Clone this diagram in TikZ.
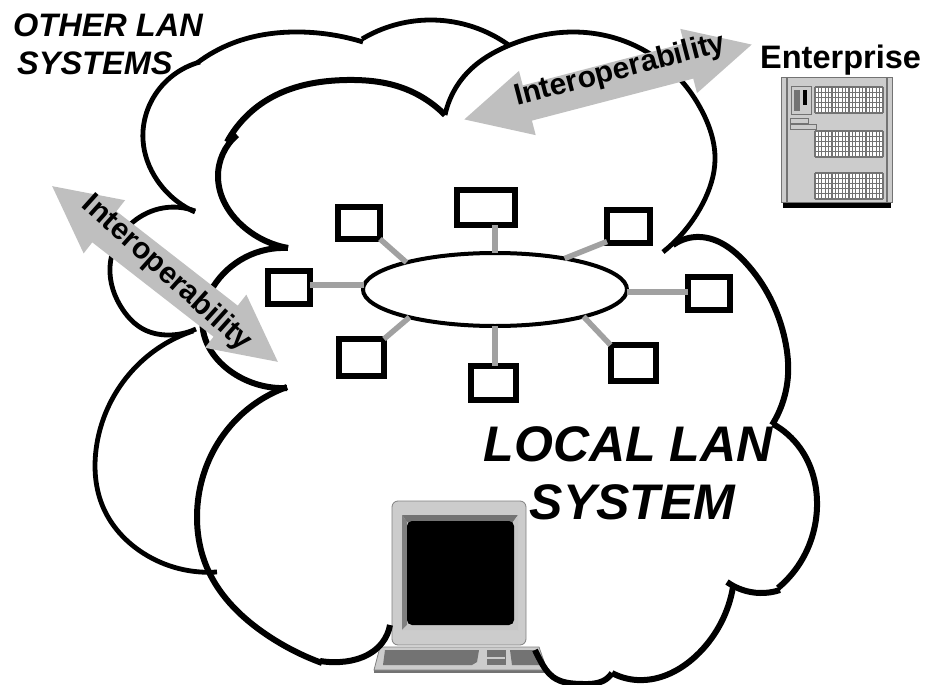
\documentclass[tikz,border=0pt]{standalone}
\usepackage{fontspec}
\setmainfont{Liberation Sans}
\usetikzlibrary{shapes.geometric,shapes.arrows,hobby}
\definecolor{arrowgray}{gray}{0.75}
\definecolor{linkgray}{gray}{0.63}
\definecolor{bodygray}{gray}{0.8}
\definecolor{keygray}{gray}{0.45}
\newcommand{\ventgrid}[1]{
    \fill[white] (815,#1) rectangle (883,#1+26);
    \foreach \ventx in {0,3.4,...,68} {\draw[ventline] (815+\ventx,#1) -- (815+\ventx,#1+26);}
    \foreach \venty in {0,5.2,...,26} {\draw[ventline] (815,#1+\venty) -- (883,#1+\venty);}
}
\begin{document}
\begin{tikzpicture}[auto,x=1pt,y=-1pt,use Hobby shortcut,
    station/.style = {draw, line width=6pt, fill=white, inner sep=0pt, outer sep=0pt},
    backcloud/.style = {line width=4.8pt},
    frontcloud/.style = {line width=6pt},
    ventline/.style = {keygray, line width=1.1pt},
    interop/.style = {double arrow, fill=arrowgray, inner sep=0pt, double arrow tip angle=54, double arrow head indent=0pt, font=\bfseries, align=center},
    bigtitle/.style = {font=\bfseries\itshape\fontsize{50}{58}\selectfont, align=center, inner sep=0pt},
    smalltitle/.style = {font=\bfseries\itshape\fontsize{32.5}{38}\selectfont, align=left, inner sep=0pt}]
                \useasboundingbox (0,0) rectangle (927,685);
                \draw[backcloud] (200,62) .. (160,88) .. (143,140) .. (157,180) .. (195,212);
                \draw[backcloud] (195,211) .. (163,208) .. (133,222) .. (110,267) .. (123,310) .. (143,329) .. (167,335) .. (196,329);
                \draw[backcloud] (193,331) .. (143,360) .. (96,450) .. (103,507) .. (143,553) .. (217,572);
                \draw[backcloud] (197,63) .. (233,43) .. (300,32) .. (363,42);
                \draw[backcloud] (362,39) .. (430,20) .. (467,25) .. (510,46);
                \draw[backcloud] (445,115) .. (467,73) .. (510,45) .. (573,32) .. (647,52) .. (703,113) .. (715,160) .. (703,203) .. (663,252);
                \draw[frontcloud] (673,245) .. (700,237) .. (745,262) .. (785,340) .. (788,375) .. (772,425);
                \draw[frontcloud] (773,424) .. (800,448) .. (817,507) .. (800,563) .. (778,588);
                \draw[frontcloud] (780,590) .. (760,593) .. (727,582);
                \draw[frontcloud] (733,587) .. (700,652) .. (637,680) .. (612,673);
                \draw[frontcloud] (322,663) .. (267,635) .. (208,570) .. (197,517) .. (233,423) .. (287,387);
                \draw[frontcloud] (287,388) .. (233,373) .. (203,330) .. (213,287) .. (288,248);
                \draw[frontcloud] (288,248) .. (245,228) .. (218,177) .. (237,135);
                \draw[frontcloud] (227,142) .. (267,100) .. (347,80) .. (400,87) .. (445,115);
                \node[interop, double arrow head extend=14pt, minimum width=67pt, minimum height=286pt, rotate=-37.9, text height=19.5pt, text depth=19.5pt] (leftarrow) at (165,274) {};
                \node[font=\bfseries\fontsize{30}{30}\selectfont, anchor=base, inner sep=0pt, rotate=-42] (leftlabel) at (161.5,279.5) {Interoperability};
                \node[interop, double arrow head extend=15pt, minimum width=66pt, minimum height=297pt, rotate=14.6, text height=18pt, text depth=18pt] (toparrow) at (608,82) {\makebox[0pt]{\fontsize{30}{30}\selectfont\hspace{29pt}Interoperability}};
                \node[ellipse, draw, line width=4pt, fill=white, minimum width=264pt, minimum height=73pt, inner sep=0pt, outer sep=0pt] (hub) at (495,289.5) {};
                \node[station, minimum width=42pt, minimum height=32pt] (st1) at (359,223) {};
                \node[station, minimum width=58pt, minimum height=35pt] (st2) at (486,207.5) {};
                \node[station, minimum width=43pt, minimum height=33pt] (st3) at (628.5,226.5) {};
                \node[station, minimum width=42pt, minimum height=33pt] (st4) at (709,293.5) {};
                \node[station, minimum width=45pt, minimum height=36pt] (st5) at (633,363) {};
                \node[station, minimum width=45pt, minimum height=34pt] (st6) at (493.5,383) {};
                \node[station, minimum width=45pt, minimum height=37pt] (st7) at (361.5,357.5) {};
                \node[station, minimum width=42pt, minimum height=33pt] (st8) at (289,287.5) {};
                \path[line width=5.5pt,color=linkgray]
                    (hub.163) edge (st1.south east)
                    (hub.90) edge (hub.90 |- st2.south)
                    (hub.24) edge (st3.215)
                    (hub.-1) edge (hub.-1 -| st4.west)
                    (hub.-17) edge (st5.north west)
                    (hub.-90) edge (hub.-90 |- st6.north)
                    (hub.198) edge (st7.north east)
                    (hub.178) edge (hub.178 -| st8.east);
                \node[smalltitle, anchor=north west] (othertitle) at (13,14) {OTHER LAN\\\hspace{4pt}SYSTEMS};
                \node[bigtitle] (localtitle) at (628,473.5) {LOCAL LAN\\\hspace{9pt}SYSTEM};
                \node[font=\bfseries\fontsize{32.5}{32.5}\selectfont, anchor=base west, inner sep=0pt] (enterprise) at (760,69) {Enterprise};
                \fill[black] (783,202) rectangle (891,208);
                \draw[fill=bodygray, draw=keygray, line width=1pt] (781,78) rectangle (892,202);
                \draw[keygray, line width=1.5pt] (787,78) -- (787,202);
                \draw[keygray, line width=1.5pt] (887,78) -- (887,202);
                \draw[fill=bodygray, draw=keygray, line width=1pt] (791,87) rectangle (811,114);
                \fill[keygray] (794,90) rectangle (800,111);
                \fill[black] (803,90) rectangle (807,105);
                \draw[fill=bodygray, draw=keygray, line width=0.8pt] (790,118) rectangle (808,123);
                \draw[fill=bodygray, draw=keygray, line width=0.8pt] (790,124) rectangle (816,129);
                \ventgrid{87}
                \ventgrid{131}
                \ventgrid{173}
                \fill[keygray] (374,670) rectangle (547,673);
                \draw[fill=bodygray, draw=gray, line width=0.8pt] (380,647) -- (539,647) -- (547,670) -- (374,670) -- cycle;
                \fill[keygray] (385,650) -- (479,650) -- (477,662) -- (472,665) -- (383,665) -- cycle;
                \fill[keygray] (487,650) rectangle (506,665);
                \fill[bodygray] (487,657) rectangle (505,659);
                \fill[keygray] (510,650) -- (535,650) -- (540,665) -- (512,665) -- cycle;
                \draw[fill=bodygray, draw=gray, line width=0.8pt, rounded corners=6pt] (392,501) rectangle (526,645);
                \fill[gray!90!black] (402,515) -- (518,515) -- (513,522) -- (407,522) -- cycle;
                \fill[gray] (402,515) -- (407,522) -- (407,625) -- (402,630) -- cycle;
                \fill[black!22] (518,515) -- (513,522) -- (513,625) -- (518,630) -- cycle;
                \fill[black!22] (402,630) -- (407,625) -- (513,625) -- (518,630) -- cycle;
                \fill[black, rounded corners=5pt] (407,521) rectangle (514,625);
                \draw[frontcloud] (390,625) .. (382,643) .. (363,657) .. (340,662) .. (320,661);
                \draw[frontcloud] (612,673) .. (603,681) .. (583,684) .. (553,677) .. (540,660) .. (535,650);
            \end{tikzpicture}
\end{document}
